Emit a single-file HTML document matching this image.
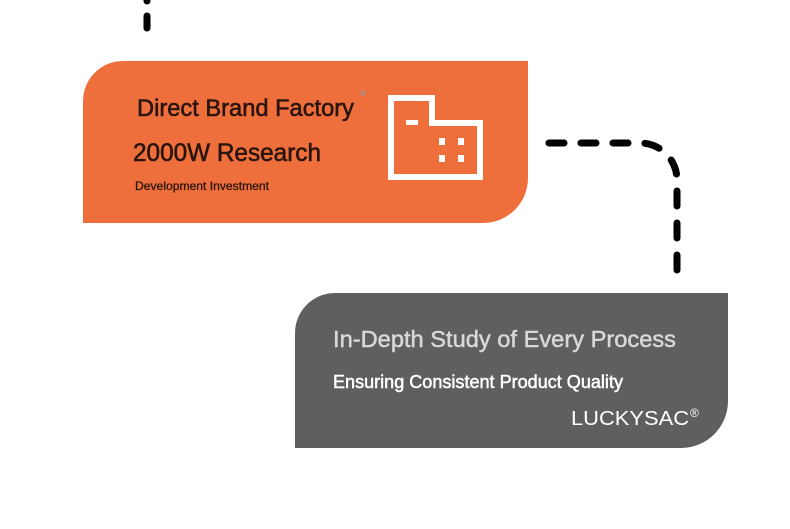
<!DOCTYPE html>
<html>
<head>
<meta charset="utf-8">
<style>
  html,body{margin:0;padding:0;background:#ffffff;}
  body{width:790px;height:529px;overflow:hidden;}
  svg{display:block;}
  text{font-family:"Liberation Sans", Arial, sans-serif;}
</style>
</head>
<body>
<svg width="790" height="529" viewBox="0 0 790 529" xmlns="http://www.w3.org/2000/svg">
  <!-- top connector stub -->
  <line x1="147" y1="-4" x2="147" y2="1" stroke="#000" stroke-width="7" stroke-linecap="round"/>
  <line x1="147" y1="16" x2="147" y2="28" stroke="#000" stroke-width="7" stroke-linecap="round"/>

  <!-- orange box -->
  <path d="M83 223 V101 A40 40 0 0 1 123 61 H528 V178 A45 45 0 0 1 483 223 Z" fill="#EF6F3C"/>
  <!-- small speck -->
  <circle cx="363" cy="93" r="3" fill="#b98a78" opacity="0.8"/>

  <text x="137" y="116" font-size="24" fill="#2a150d" stroke="#2a150d" stroke-width="0.6" textLength="217" lengthAdjust="spacingAndGlyphs">Direct Brand Factory</text>
  <text x="133" y="161" font-size="25" fill="#2a150d" stroke="#2a150d" stroke-width="0.6" textLength="188" lengthAdjust="spacingAndGlyphs">2000W Research</text>
  <text x="135" y="190" font-size="12" fill="#2a150d" stroke="#2a150d" stroke-width="0.3" textLength="134" lengthAdjust="spacingAndGlyphs">Development Investment</text>

  <!-- factory icon -->
  <path d="M391 98 H432 V123 H480 V177 H391 Z" fill="none" stroke="#ffffff" stroke-width="6" stroke-linejoin="miter"/>
  <rect x="406" y="120" width="12" height="5" fill="#ffffff"/>
  <rect x="439" y="138" width="6" height="7" fill="#ffffff"/>
  <rect x="458" y="138" width="6" height="7" fill="#ffffff"/>
  <rect x="439" y="155" width="6" height="7" fill="#ffffff"/>
  <rect x="458" y="155" width="6" height="7" fill="#ffffff"/>

  <!-- dashed connector -->
  <path d="M549 143 H640 A37 37 0 0 1 677 180 V272" fill="none" stroke="#000" stroke-width="7" stroke-linecap="round" stroke-dasharray="15 17"/>

  <!-- gray box -->
  <path d="M295 448 V333 A40 40 0 0 1 335 293 H728 V401 A47 47 0 0 1 681 448 Z" fill="#5F5F5F"/>

  <text x="333" y="347" font-size="23.5" fill="#d8d8d8" stroke="#d8d8d8" stroke-width="0.5" textLength="343" lengthAdjust="spacingAndGlyphs">In-Depth Study of Every Process</text>
  <text x="333" y="388" font-size="18" fill="#ffffff" stroke="#ffffff" stroke-width="0.5" textLength="290" lengthAdjust="spacingAndGlyphs">Ensuring Consistent Product Quality</text>
  <text x="571" y="425" font-size="20" fill="#ffffff" textLength="118" lengthAdjust="spacingAndGlyphs">LUCKYSAC</text>
  <text x="690" y="417" font-size="12" fill="#ffffff">®</text>
</svg>
</body>
</html>
